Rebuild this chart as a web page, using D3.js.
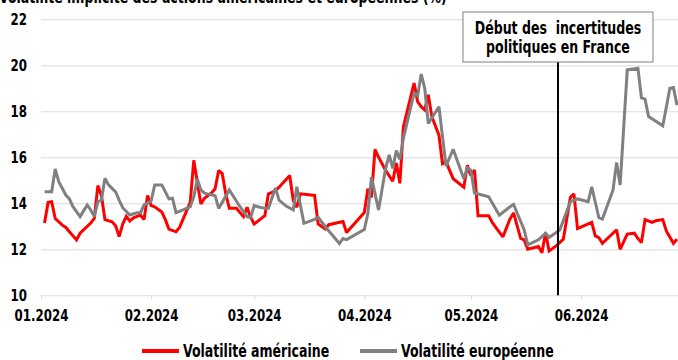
<!DOCTYPE html>
<html>
<head>
<meta charset="utf-8">
<script src="https://cdn.jsdelivr.net/npm/d3@7"></script>
<style>
  html, body { margin: 0; padding: 0; background: #ffffff; }
  svg { display: block; }
  text { font-family: 'Liberation Sans Narrow', 'DejaVu Sans Condensed', 'Arial Narrow', sans-serif; font-weight: bold; fill: #000; }
</style>
</head>
<body>
<svg id="chart" width="678" height="360"></svg>
<script>
// Implied volatility of US and European equity indices, Jan–Jun 2024 (%)
const usVol = [
  ["2024-01-02",13.14],["2024-01-03",14.04],["2024-01-04",14.07],["2024-01-05",13.34],
  ["2024-01-07",13.05],["2024-01-08",12.95],["2024-01-09",12.76],["2024-01-11",12.41],
  ["2024-01-12",12.70],["2024-01-15",13.14],["2024-01-16",13.34],["2024-01-17",14.77],
  ["2024-01-18",14.34],["2024-01-19",13.29],["2024-01-21",13.20],["2024-01-22",13.02],
  ["2024-01-23",12.55],["2024-01-24",13.10],["2024-01-25",13.43],["2024-01-26",13.23],
  ["2024-01-27",13.37],["2024-01-29",13.49],["2024-01-30",13.29],["2024-01-31",14.34],
  ["2024-02-01",13.90],["2024-02-02",13.85],["2024-02-04",13.62],["2024-02-05",13.29],
  ["2024-02-06",12.88],["2024-02-08",12.76],["2024-02-09",12.95],["2024-02-11",13.68],
  ["2024-02-12",14.04],["2024-02-13",15.87],["2024-02-15",13.97],["2024-02-16",14.22],
  ["2024-02-18",14.45],["2024-02-19",14.63],["2024-02-20",15.43],["2024-02-21",15.29],
  ["2024-02-22",14.41],["2024-02-23",13.78],["2024-02-25",13.78],["2024-02-26",13.60],
  ["2024-02-27",13.42],["2024-02-28",13.83],["2024-02-29",13.39],["2024-03-01",13.10],
  ["2024-03-04",13.46],["2024-03-05",14.41],["2024-03-06",14.48],["2024-03-07",14.55],
  ["2024-03-08",14.70],["2024-03-11",15.21],["2024-03-12",14.12],["2024-03-13",13.83],
  ["2024-03-14",14.41],["2024-03-18",14.34],["2024-03-19",13.10],["2024-03-21",12.88],
  ["2024-03-22",13.07],["2024-03-26",13.21],["2024-03-27",12.73],["2024-04-01",13.60],
  ["2024-04-02",14.63],["2024-04-03",14.26],["2024-04-04",16.34],["2024-04-05",16.01],
  ["2024-04-07",15.43],["2024-04-09",14.96],["2024-04-10",15.75],["2024-04-11",14.87],
  ["2024-04-12",17.33],["2024-04-15",19.23],["2024-04-16",18.42],["2024-04-17",18.20],
  ["2024-04-18",18.06],["2024-04-19",18.72],["2024-04-20",17.77],["2024-04-22",16.96],
  ["2024-04-23",15.72],["2024-04-24",15.80],["2024-04-25",15.43],["2024-04-26",15.07],
  ["2024-04-29",14.70],["2024-04-30",15.65],["2024-05-01",15.21],["2024-05-02",15.45],
  ["2024-05-03",13.46],["2024-05-06",13.46],["2024-05-07",13.17],["2024-05-08",12.95],
  ["2024-05-10",12.54],["2024-05-12",13.32],["2024-05-13",13.58],["2024-05-15",12.47],
  ["2024-05-16",12.41],["2024-05-17",12.00],["2024-05-20",12.12],["2024-05-21",11.85],
  ["2024-05-22",12.73],["2024-05-23",11.93],["2024-05-25",12.15],["2024-05-27",12.44],
  ["2024-05-29",14.26],["2024-05-30",14.41],["2024-05-31",12.90],["2024-06-04",13.17],
  ["2024-06-05",12.58],["2024-06-06",12.51],["2024-06-07",12.26],["2024-06-11",12.85],
  ["2024-06-12",12.00],["2024-06-14",12.66],["2024-06-16",12.70],["2024-06-17",12.47],
  ["2024-06-18",12.29],["2024-06-19",13.29],["2024-06-21",13.17],["2024-06-22",13.24],
  ["2024-06-24",13.29],["2024-06-25",12.80],["2024-06-27",12.26],["2024-06-28",12.44]
];

const euVol = [
  ["2024-01-02",14.50],["2024-01-04",14.50],["2024-01-05",15.49],["2024-01-06",14.94],
  ["2024-01-08",14.36],["2024-01-09",14.19],["2024-01-10",13.85],["2024-01-12",13.42],
  ["2024-01-13",13.67],["2024-01-14",13.93],["2024-01-15",13.71],["2024-01-16",13.42],
  ["2024-01-17",14.07],["2024-01-18",14.14],["2024-01-19",15.09],["2024-01-20",14.80],
  ["2024-01-22",14.50],["2024-01-23",14.14],["2024-01-24",13.81],["2024-01-26",13.49],
  ["2024-01-28",13.59],["2024-01-29",13.59],["2024-01-30",13.93],["2024-02-01",14.10],
  ["2024-02-02",14.80],["2024-02-04",14.80],["2024-02-06",14.19],["2024-02-07",14.22],
  ["2024-02-08",13.59],["2024-02-10",13.71],["2024-02-12",13.85],["2024-02-13",14.28],
  ["2024-02-14",15.05],["2024-02-15",14.58],["2024-02-16",14.44],["2024-02-19",14.33],
  ["2024-02-20",13.78],["2024-02-21",14.04],["2024-02-23",14.58],["2024-02-26",13.85],
  ["2024-02-28",13.42],["2024-02-29",13.38],["2024-03-01",13.90],["2024-03-02",13.85],
  ["2024-03-04",13.78],["2024-03-05",13.78],["2024-03-07",14.67],["2024-03-08",14.14],
  ["2024-03-10",13.88],["2024-03-12",13.71],["2024-03-13",14.72],["2024-03-15",13.13],
  ["2024-03-18",13.30],["2024-03-19",13.39],["2024-03-21",12.98],["2024-03-25",12.25],
  ["2024-03-26",12.47],["2024-03-27",12.42],["2024-04-01",12.86],["2024-04-02",13.56],
  ["2024-04-03",15.14],["2024-04-05",13.71],["2024-04-07",15.52],["2024-04-08",16.10],
  ["2024-04-09",15.52],["2024-04-10",16.29],["2024-04-11",15.91],["2024-04-12",16.83],
  ["2024-04-15",18.79],["2024-04-16",18.67],["2024-04-17",19.62],["2024-04-18",19.00],
  ["2024-04-19",17.47],["2024-04-22",18.20],["2024-04-23",16.90],["2024-04-24",15.62],
  ["2024-04-26",16.35],["2024-04-29",15.07],["2024-04-30",15.55],["2024-05-01",15.43],
  ["2024-05-02",14.45],["2024-05-06",14.28],["2024-05-09",13.48],["2024-05-12",13.85],
  ["2024-05-13",13.95],["2024-05-16",12.84],["2024-05-17",12.19],["2024-05-20",12.41],
  ["2024-05-22",12.70],["2024-05-23",12.51],["2024-05-26",12.84],["2024-05-29",14.07],
  ["2024-05-31",14.19],["2024-06-03",14.07],["2024-06-04",14.72],["2024-06-06",13.38],
  ["2024-06-07",13.32],["2024-06-10",14.58],["2024-06-11",15.78],["2024-06-12",14.80],
  ["2024-06-14",19.80],["2024-06-17",19.87],["2024-06-18",18.58],["2024-06-19",18.53],
  ["2024-06-20",17.77],["2024-06-24",17.37],["2024-06-26",19.00],["2024-06-27",19.03],
  ["2024-06-28",18.27]
];

const yTicks = [10, 12, 14, 16, 18, 20, 22];
const monthTicks = ["2024-01-01","2024-02-01","2024-03-01","2024-04-01","2024-05-01","2024-06-01"];
const seriesNames = ["Volatilité américaine", "Volatilité européenne"];
const seriesColors = ["#ff0000", "#808080"];
const eventDate = "2024-05-25T12:00";
const eventLabel = ["Début des\u00A0\u00A0incertitudes", "politiques en France"];
const titleText = "Volatilité implicite des actions américaines et européennes (%)";

const parse = d3.timeParse("%Y-%m-%d");
const parseTime = d3.timeParse("%Y-%m-%dT%H:%M");
const fmtMonth = d3.timeFormat("%m.%Y");

const svg = d3.select("#chart");
const plotLeft = 41, plotRight = 677, plotTop = 19.3, plotBottom = 295.3;
const narrow = 0.82; // horizontal squeeze giving a condensed bold face

const x = d3.scaleTime()
  .domain([parse("2024-01-01"), parse("2024-06-28")])
  .range([plotLeft, plotRight]);
const y = d3.scaleLinear().domain([10, 22]).range([plotBottom, plotTop]);

// Title (mostly above the visible area)
svg.append("text")
  .attr("class", "cond")
  .attr("x", -1).attr("y", 3)
  .style("font-size", "17px")
  .text(titleText);

// Horizontal gridlines + y labels
const yAxis = svg.append("g")
  .attr("transform", `translate(${plotLeft},0)`)
  .call(d3.axisLeft(y).tickValues(yTicks).tickSize(-(678 - plotLeft)).tickPadding(14).tickFormat(d3.format("d")));
yAxis.select(".domain").remove();
yAxis.selectAll(".tick line").attr("stroke", "#d9d9d9").attr("stroke-width", 1);
yAxis.selectAll(".tick text").attr("class", "cond");

// Month axis
const xAxis = svg.append("g")
  .attr("transform", `translate(0,${plotBottom})`)
  .call(d3.axisBottom(x).tickValues(monthTicks.map(parse)).tickSize(4).tickPadding(10).tickFormat(fmtMonth));
xAxis.select(".domain").remove();
xAxis.selectAll(".tick line").attr("stroke", "#d9d9d9");
xAxis.selectAll(".tick text").attr("class", "cond");

[yAxis, xAxis].forEach(a => a.selectAll(".tick text")
  .style("font-size", "16px")
  .style("font-family", "'Liberation Sans Narrow', 'DejaVu Sans Condensed', sans-serif")
  .style("font-weight", "bold")
  .attr("fill", "#000"));

// Series lines
const line = d3.line()
  .x(d => x(parse(d[0])))
  .y(d => y(d[1]));

[usVol, euVol].forEach((s, i) => {
  svg.append("path")
    .datum(s)
    .attr("fill", "none")
    .attr("stroke", seriesColors[i])
    .attr("stroke-width", 3)
    .attr("stroke-linejoin", "miter")
    .attr("stroke-miterlimit", 2)
    .attr("d", line);
});

// Event marker and its label box
const ex = x(parseTime(eventDate));
svg.append("line")
  .attr("x1", ex).attr("x2", ex)
  .attr("y1", 62).attr("y2", plotBottom)
  .attr("stroke", "#000").attr("stroke-width", 2);

const boxW = 190, boxH = 50;
svg.append("rect")
  .attr("x", ex - boxW / 2).attr("y", 12)
  .attr("width", boxW).attr("height", boxH)
  .attr("fill", "#fff").attr("stroke", "#7f7f7f").attr("stroke-width", 1);
eventLabel.forEach((t, i) => {
  svg.append("text")
    .attr("class", "cond")
    .attr("x", ex).attr("y", 34 + i * 19)
    .attr("text-anchor", "middle")
    .style("font-size", "17px")
    .text(t);
});

// Legend
const legendX = [142, 360];
seriesNames.forEach((n, i) => {
  const g = svg.append("g").attr("transform", `translate(${legendX[i]},351)`);
  g.append("line").attr("x1", 0).attr("x2", 37).attr("y1", 0).attr("y2", 0)
    .attr("stroke", seriesColors[i]).attr("stroke-width", 4);
  g.append("text").attr("class", "cond").attr("x", 41).attr("y", 6)
    .style("font-size", "17px")
    .text(n);
});

// Condense every label horizontally while keeping its height
svg.selectAll("text.cond").each(function () {
  const w = this.getComputedTextLength();
  d3.select(this).attr("textLength", w * narrow).attr("lengthAdjust", "spacingAndGlyphs");
});
</script>
</body>
</html>
